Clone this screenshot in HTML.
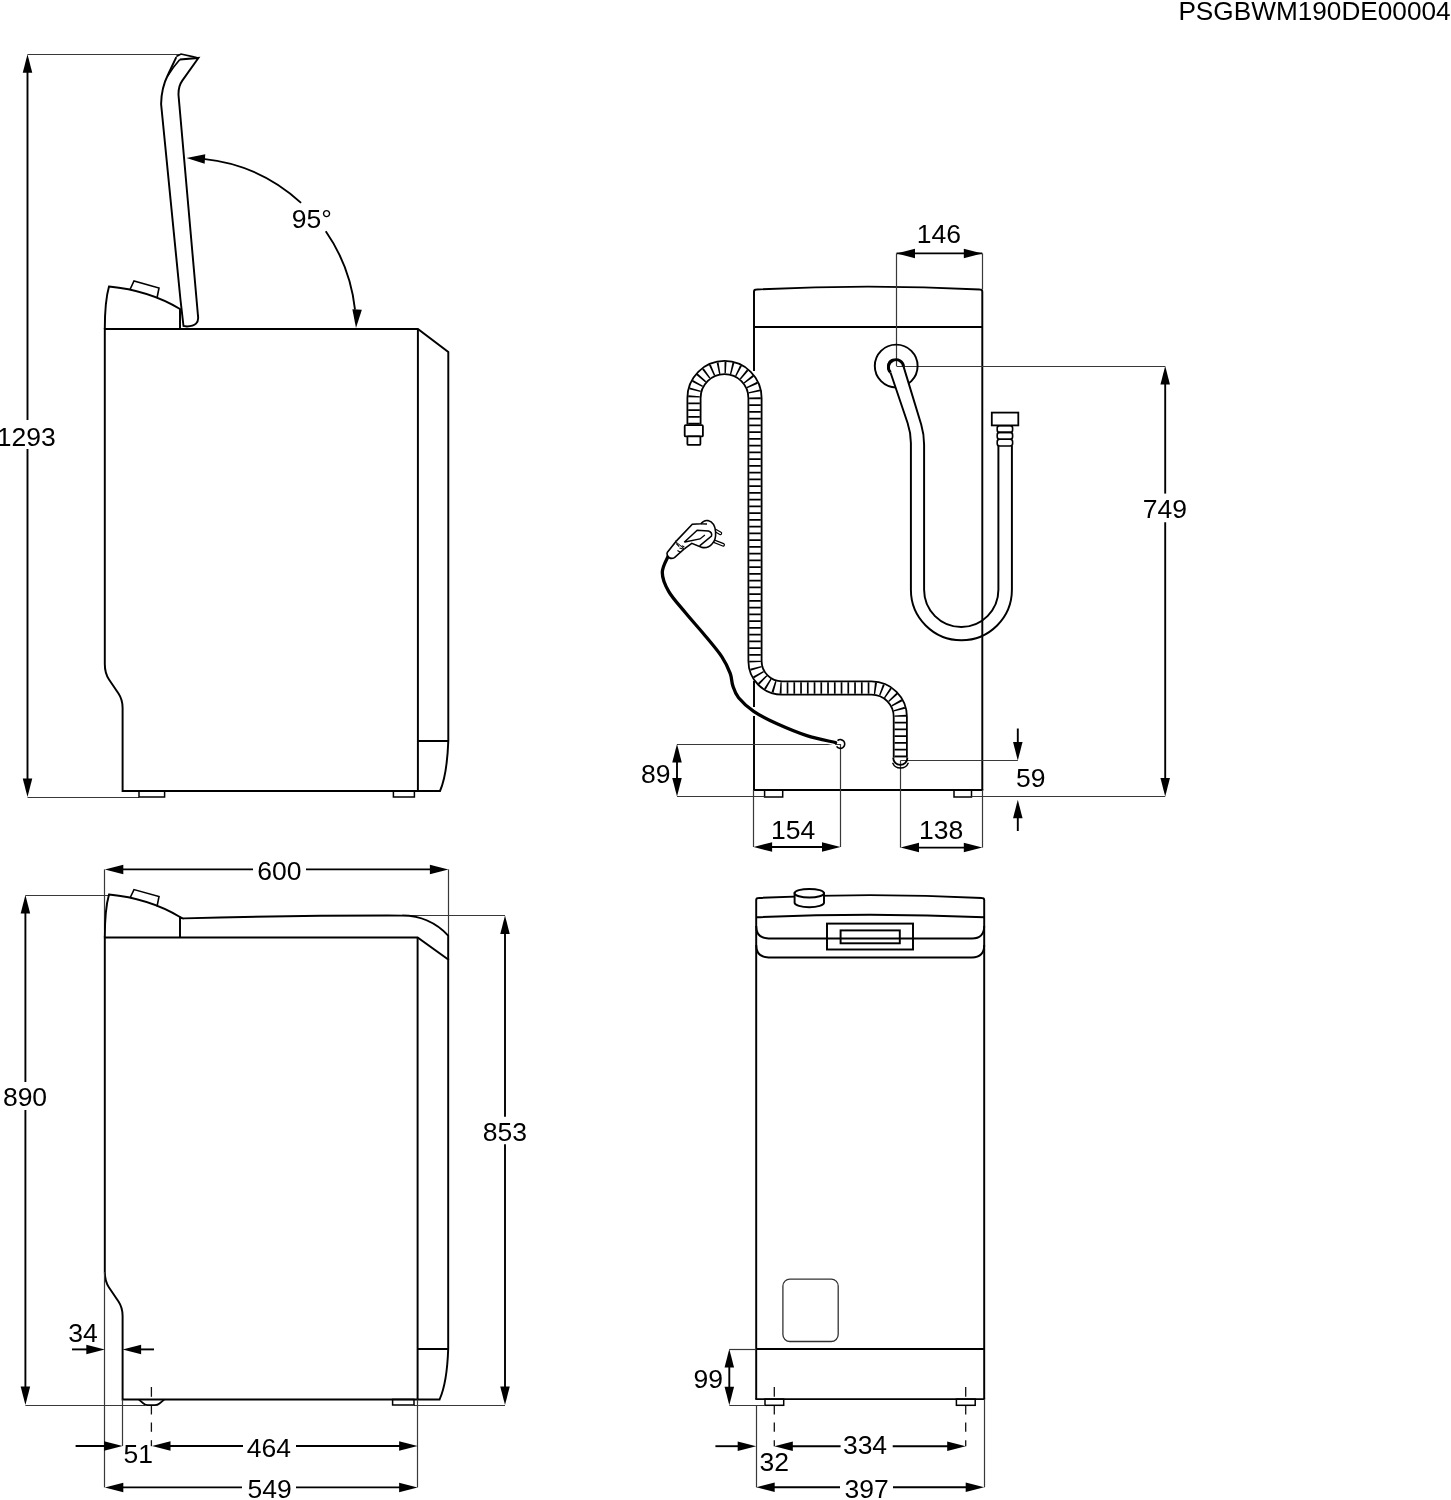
<!DOCTYPE html>
<html><head><meta charset="utf-8"><title>Dimensions</title>
<style>html,body{margin:0;padding:0;background:#fff;overflow:hidden}svg{display:block}</style></head>
<body><svg width="1451" height="1500" viewBox="0 0 1451 1500" font-family="Liberation Sans, sans-serif" font-size="26.5" fill="#000" style="will-change:transform">
<rect x="0" y="0" width="1451" height="1500" fill="#fff"/>
<text x="1178.4" y="19.7" font-size="26.2">PSGBWM190DE00004</text>
<line x1="27.5" y1="60" x2="27.5" y2="420" stroke="#000" stroke-width="1.9" />
<line x1="27.5" y1="449" x2="27.5" y2="790" stroke="#000" stroke-width="1.9" />
<polygon points="27.50,54.30 32.25,72.80 22.75,72.80" fill="#000"/>
<polygon points="27.50,797.00 22.75,778.50 32.25,778.50" fill="#000"/>
<line x1="27.5" y1="54.5" x2="181" y2="54.5" stroke="#383838" stroke-width="1.2" />
<line x1="27.5" y1="797.5" x2="139" y2="797.5" stroke="#383838" stroke-width="1.2" />
<text x="-3.25" y="445.6" text-anchor="start">1293</text>
<path d="M104.8,329 L417.9,329 L448.3,352 L448.3,741 Q447,775 440,791 L122.6,791 L122.6,708 C122.6,701 121.5,698 118.5,693.5 L109,679.5 C106,675 104.8,671 104.8,664 Z" stroke="#000" stroke-width="1.95" fill="none" />
<line x1="417.9" y1="329" x2="417.9" y2="791" stroke="#000" stroke-width="1.95" />
<line x1="417.9" y1="741" x2="448.3" y2="741" stroke="#000" stroke-width="1.95" />
<rect x="139" y="791" width="25.60" height="6.00" rx="0" stroke="#000" stroke-width="1.5" fill="none"/>
<rect x="393.4" y="791" width="21.00" height="6.00" rx="0" stroke="#000" stroke-width="1.5" fill="none"/>
<path d="M104.8,329 C104.8,312 106,297 109,286.5 C135,289 160,297 180,309 L180,329" stroke="#000" stroke-width="1.95" fill="none" />
<path d="M130,289.5 L134,281 L159,288 L157,298" stroke="#000" stroke-width="1.6" fill="none" />
<path d="M176.3,57.2 L168.2,74.2 C164,82.5 161.2,92 161.1,104 L180.5,300 L183.5,326 L187,326.5 Q199.5,326 198,316 L178.5,95 C178.3,88.5 179.5,84.5 182.3,80.6 L198.4,58 L179.8,59.5" stroke="#000" stroke-width="1.95" fill="none" />
<path d="M179.8,59.5 C175,65 171.5,69.5 167.6,76" stroke="#000" stroke-width="1.7" fill="none" />
<path d="M176.3,56.5 L181,54 L192.6,56.6 L198.4,58" stroke="#000" stroke-width="1.6" fill="none" />
<path d="M203.18,158.87 A170,170 0 0 1 301.07,202.86" stroke="#000" stroke-width="1.9" fill="none" />
<path d="M325.76,231.22 A170,170 0 0 1 355.01,309.64" stroke="#000" stroke-width="1.9" fill="none" />
<polygon points="186.50,158.00 205.25,154.37 204.68,163.85" fill="#000"/>
<polygon points="356.00,328.00 352.37,309.25 361.85,309.82" fill="#000"/>
<text x="291.7" y="227.7" text-anchor="start">95°</text>
<path d="M754,371 L754,291.5 Q754,289.5 756.5,289.5 Q868,283.8 979.8,289.5 Q982.3,289.5 982.3,291.5 L982.3,790" stroke="#000" stroke-width="1.95" fill="none" />
<line x1="754" y1="681" x2="754" y2="707" stroke="#000" stroke-width="1.95" />
<line x1="754" y1="716" x2="754" y2="790" stroke="#000" stroke-width="1.95" />
<line x1="753.1" y1="790" x2="983.2" y2="790" stroke="#000" stroke-width="1.95" />
<line x1="754" y1="327" x2="982.3" y2="327" stroke="#000" stroke-width="1.95" />
<rect x="764.6" y="790" width="18.10" height="7.00" rx="0" stroke="#000" stroke-width="1.5" fill="none"/>
<rect x="954" y="790" width="17.50" height="7.00" rx="0" stroke="#000" stroke-width="1.5" fill="none"/>
<line x1="896.5" y1="253.4" x2="982.3" y2="253.4" stroke="#000" stroke-width="1.9" />
<polygon points="896.50,253.40 915.00,248.65 915.00,258.15" fill="#000"/>
<polygon points="982.30,253.40 963.80,258.15 963.80,248.65" fill="#000"/>
<line x1="896.5" y1="253.4" x2="896.5" y2="366" stroke="#383838" stroke-width="1.2" />
<line x1="982.5" y1="253.4" x2="982.5" y2="289.5" stroke="#383838" stroke-width="1.2" />
<text x="916.8" y="243.4" text-anchor="start">146</text>
<line x1="896.5" y1="366.5" x2="1165.2" y2="366.5" stroke="#383838" stroke-width="1.2" />
<line x1="1165.2" y1="372" x2="1165.2" y2="493.6" stroke="#000" stroke-width="1.9" />
<line x1="1165.2" y1="522.3" x2="1165.2" y2="790" stroke="#000" stroke-width="1.9" />
<polygon points="1165.20,366.00 1169.95,384.50 1160.45,384.50" fill="#000"/>
<polygon points="1165.20,796.50 1160.45,778.00 1169.95,778.00" fill="#000"/>
<text x="1142.7" y="517.7" text-anchor="start">749</text>
<line x1="971.5" y1="796.5" x2="1165.2" y2="796.5" stroke="#383838" stroke-width="1.2" />
<line x1="677" y1="744.5" x2="840.5" y2="744.5" stroke="#383838" stroke-width="1.2" />
<line x1="677" y1="796.5" x2="764.6" y2="796.5" stroke="#383838" stroke-width="1.2" />
<line x1="677" y1="750" x2="677" y2="790" stroke="#000" stroke-width="1.9" />
<polygon points="677.00,744.00 681.75,762.50 672.25,762.50" fill="#000"/>
<polygon points="677.00,796.50 672.25,778.00 681.75,778.00" fill="#000"/>
<text x="641.1" y="783.3" text-anchor="start">89</text>
<line x1="753.5" y1="790" x2="753.5" y2="847" stroke="#383838" stroke-width="1.2" />
<line x1="840.5" y1="744" x2="840.5" y2="847" stroke="#383838" stroke-width="1.2" />
<line x1="760" y1="847" x2="834" y2="847" stroke="#000" stroke-width="1.9" />
<polygon points="753.60,847.00 772.10,842.25 772.10,851.75" fill="#000"/>
<polygon points="840.50,847.00 822.00,851.75 822.00,842.25" fill="#000"/>
<text x="771" y="838.9" text-anchor="start">154</text>
<line x1="900.5" y1="760.5" x2="900.5" y2="847.6" stroke="#383838" stroke-width="1.2" />
<line x1="982.5" y1="790" x2="982.5" y2="847.6" stroke="#383838" stroke-width="1.2" />
<line x1="906" y1="847.6" x2="976" y2="847.6" stroke="#000" stroke-width="1.9" />
<polygon points="900.50,847.60 919.00,842.85 919.00,852.35" fill="#000"/>
<polygon points="982.30,847.60 963.80,852.35 963.80,842.85" fill="#000"/>
<text x="919" y="838.9" text-anchor="start">138</text>
<line x1="900.5" y1="760.5" x2="1017.8" y2="760.5" stroke="#383838" stroke-width="1.2" />
<line x1="1017.8" y1="728.5" x2="1017.8" y2="748" stroke="#000" stroke-width="1.9" />
<polygon points="1017.80,760.50 1013.05,742.00 1022.55,742.00" fill="#000"/>
<line x1="1017.8" y1="812" x2="1017.8" y2="831" stroke="#000" stroke-width="1.9" />
<polygon points="1017.80,799.80 1022.55,818.30 1013.05,818.30" fill="#000"/>
<text x="1015.9" y="786.9" text-anchor="start">59</text>
<circle cx="896.2" cy="366" r="21.4" stroke="#000" stroke-width="1.95" fill="none"/>
<polygon points="890.5,372.5 903.6,366.6 913,398 899.5,398" fill="#fff"/>
<path d="M890.5,372.5 L907.6,423 Q910.9,433 910.9,443 L910.9,589.8 A50.5,50.5 0 0 0 1011.9,589.8 L1011.9,446" stroke="#000" stroke-width="1.95" fill="none" />
<path d="M903.6,366.6 L921.2,424.5 Q924.1,434.5 924.1,444.5 L924.1,589.8 A37.15,37.15 0 0 0 998.4,589.8 L998.4,446" stroke="#000" stroke-width="1.95" fill="none" />
<path d="M890.5,372.5 A7.6,7.6 0 1 1 903.6,366.6" stroke="#000" stroke-width="2.9" fill="none" />
<path d="M889.6,371 A7.2,7.2 0 0 1 893.5,359.2" stroke="#000" stroke-width="1.6" fill="none" />
<rect x="997.2" y="425.6" width="15.40" height="6.80" rx="2.5" stroke="#000" stroke-width="1.6" fill="none"/>
<rect x="997.2" y="432.4" width="15.40" height="6.80" rx="2.5" stroke="#000" stroke-width="1.6" fill="none"/>
<rect x="997.2" y="439.2" width="15.40" height="6.80" rx="2.5" stroke="#000" stroke-width="1.6" fill="none"/>
<rect x="991.8" y="412.6" width="26.50" height="12.80" rx="0" stroke="#000" stroke-width="1.8" fill="white"/>
<path d="M694,424.4 L694,398 A30.5,30.5 0 0 1 755,398 L755,661 A27,27 0 0 0 782,688 L871.5,688 A28.8,28.8 0 0 1 900.3,716.8 L900.3,757.8" stroke="#000" stroke-width="15.0" fill="none" />
<path d="M694,424.4 L694,398 A30.5,30.5 0 0 1 755,398 L755,661 A27,27 0 0 0 782,688 L871.5,688 A28.8,28.8 0 0 1 900.3,716.8 L900.3,757.8" stroke="#ffffff" stroke-width="11.4" fill="none" />
<path d="M694,424.4 L694,398 A30.5,30.5 0 0 1 755,398 L755,661 A27,27 0 0 0 782,688 L871.5,688 A28.8,28.8 0 0 1 900.3,716.8 L900.3,757.8" stroke="#000" stroke-width="11.6" fill="none" stroke-dasharray="1.7 5.05"/>
<path d="M893.2,757.8 A7.1,7.1 0 0 0 907.4,757.8" stroke="#000" stroke-width="1.9" fill="none" />
<path d="M892.6,762.7 A8.5,8.5 0 0 0 908.4,762.7" stroke="#000" stroke-width="1.4" fill="none" />
<rect x="684.7" y="425.2" width="18.20" height="11.20" rx="1" stroke="#000" stroke-width="1.8" fill="white"/>
<rect x="687.4" y="436.4" width="13.00" height="8.50" rx="1" stroke="#000" stroke-width="1.8" fill="white"/>
<path d="M668.5,555.5 C667.5,558.3 662.2,566.5 662.3,572.5 C662.3,578.5 664.9,584.9 668.8,591.6 C672.7,598.3 679.7,605.7 685.5,612.8 C691.3,619.9 697.6,626.7 703.7,634 C709.8,641.3 717.5,650.2 721.9,656.8 C726.3,663.4 728.4,668.6 730.2,673.4 C732.0,678.2 731.4,681.5 732.8,685.6 C734.2,689.7 735.1,693.4 738.6,697.7 C742.1,702.0 747.4,707.0 753.7,711.3 C760.0,715.6 767.6,719.5 776.5,723.5 C785.4,727.5 796.9,732.4 806.8,735.6 C816.6,738.8 830.8,741.4 835.6,742.6" stroke="#ffffff" stroke-width="6" fill="none" />
<path d="M668.5,555.5 C667.5,558.3 662.2,566.5 662.3,572.5 C662.3,578.5 664.9,584.9 668.8,591.6 C672.7,598.3 679.7,605.7 685.5,612.8 C691.3,619.9 697.6,626.7 703.7,634 C709.8,641.3 717.5,650.2 721.9,656.8 C726.3,663.4 728.4,668.6 730.2,673.4 C732.0,678.2 731.4,681.5 732.8,685.6 C734.2,689.7 735.1,693.4 738.6,697.7 C742.1,702.0 747.4,707.0 753.7,711.3 C760.0,715.6 767.6,719.5 776.5,723.5 C785.4,727.5 796.9,732.4 806.8,735.6 C816.6,738.8 830.8,741.4 835.6,742.6" stroke="#000" stroke-width="3.3" fill="none" stroke-linecap="round"/>
<path d="M837.5,740.6 A4.4,4.4 0 1 1 836.6,746.3" stroke="#000" stroke-width="1.6" fill="none" />
<path d="M715,530.2 L720.4,533.4" stroke="#000" stroke-width="3.6" fill="none" stroke-linecap="round"/>
<path d="M715,530.2 L720.4,533.4" stroke="#fff" stroke-width="1.3" fill="none" stroke-linecap="round"/>
<path d="M713.5,541 L723.2,544.8" stroke="#000" stroke-width="3.6" fill="none" stroke-linecap="round"/>
<path d="M713.5,541 L723.2,544.8" stroke="#fff" stroke-width="1.3" fill="none" stroke-linecap="round"/>
<path d="M667.4,552.2 L676,541.4 L684.6,548.6 L674.5,557.6 Q670,560 667.4,555.5 Q666.6,553.5 667.4,552.2 Z" stroke="#000" stroke-width="1.6" fill="white" />
<path d="M676,541.4 L692.3,524.2 L701,523.8 Q704,519.8 708,520.6 Q715,522.5 715.6,532 Q716.2,540 712,544 Q708,548.6 702,547.4 L691.8,543.3 L684.6,548.6" stroke="#000" stroke-width="1.6" fill="white" />
<path d="M701,523.8 L707,524" stroke="#000" stroke-width="1.3" fill="none" />
<path d="M684.2,542.3 L697.2,530.3 L708.5,531 Q712.5,532.5 711.5,536 L699.6,545.8" stroke="#000" stroke-width="1.5" fill="none" />
<path d="M684.8,542 L700,538.9 L704.9,535.1" stroke="#000" stroke-width="1.3" fill="none" />
<path d="M676.3,543.5 L679.2,546.6 M677.4,550.6 L681,552.6 M679.5,548 L683.8,549.2 M681.8,545.8 L684.3,546.8" stroke="#000" stroke-width="1.1" fill="none" />
<line x1="111" y1="869.4" x2="253" y2="869.4" stroke="#000" stroke-width="1.9" />
<line x1="306" y1="869.4" x2="442" y2="869.4" stroke="#000" stroke-width="1.9" />
<polygon points="104.80,869.40 123.30,864.65 123.30,874.15" fill="#000"/>
<polygon points="448.40,869.40 429.90,874.15 429.90,864.65" fill="#000"/>
<line x1="104.5" y1="869.4" x2="104.5" y2="930" stroke="#383838" stroke-width="1.2" />
<line x1="448.5" y1="869.4" x2="448.5" y2="935" stroke="#383838" stroke-width="1.2" />
<text x="257.2" y="879.8" text-anchor="start">600</text>
<line x1="25.4" y1="901" x2="25.4" y2="1082" stroke="#000" stroke-width="1.9" />
<line x1="25.4" y1="1110" x2="25.4" y2="1399" stroke="#000" stroke-width="1.9" />
<polygon points="25.40,895.00 30.15,913.50 20.65,913.50" fill="#000"/>
<polygon points="25.40,1405.00 20.65,1386.50 30.15,1386.50" fill="#000"/>
<line x1="25.4" y1="895.5" x2="109" y2="895.5" stroke="#383838" stroke-width="1.2" />
<line x1="25.4" y1="1405.5" x2="145" y2="1405.5" stroke="#383838" stroke-width="1.2" />
<text x="2.9" y="1106.1" text-anchor="start">890</text>
<line x1="505" y1="922" x2="505" y2="1116.7" stroke="#000" stroke-width="1.9" />
<line x1="505" y1="1144.2" x2="505" y2="1399" stroke="#000" stroke-width="1.9" />
<polygon points="505.00,915.60 509.75,934.10 500.25,934.10" fill="#000"/>
<polygon points="505.00,1405.00 500.25,1386.50 509.75,1386.50" fill="#000"/>
<line x1="400" y1="915.5" x2="505" y2="915.5" stroke="#383838" stroke-width="1.2" />
<line x1="414" y1="1405.5" x2="505" y2="1405.5" stroke="#383838" stroke-width="1.2" />
<text x="482.7" y="1141.2" text-anchor="start">853</text>
<path d="M104.8,937.4 L417.6,937.4 L448.2,959.4 L448.2,1349 Q447,1383 439.6,1399.4 L122.6,1399.4 L122.6,1316 C122.6,1309 121.5,1306 118.5,1301.5 L109,1287.5 C106,1283 104.8,1279 104.8,1272 Z" stroke="#000" stroke-width="1.95" fill="none" />
<line x1="417.6" y1="937.4" x2="417.6" y2="1399.4" stroke="#000" stroke-width="1.95" />
<line x1="417.6" y1="1349" x2="448.2" y2="1349" stroke="#000" stroke-width="1.95" />
<path d="M138.6,1399.4 L143.5,1403.5 Q145.5,1405.2 148,1405.2 L155,1405.2 Q157.5,1405.2 159.5,1403.5 L164.5,1399.4" stroke="#000" stroke-width="1.7" fill="none" />
<rect x="392.6" y="1399.4" width="21.40" height="5.60" rx="0" stroke="#000" stroke-width="1.5" fill="none"/>
<path d="M104.8,937.4 C104.8,920 106,905 109,894.5 C135,897 160,905 180,917 L180,937.4" stroke="#000" stroke-width="1.95" fill="none" />
<path d="M130,898 L134,889.6 L159,896.6 L157,906.5" stroke="#000" stroke-width="1.6" fill="none" />
<path d="M180,917 Q181.5,918.6 184,918.4 Q290,915.4 402,915.6 A62,62 0 0 1 448.2,935.7 L448.2,960" stroke="#000" stroke-width="1.95" fill="none" />
<line x1="151.4" y1="1387" x2="151.4" y2="1396.8" stroke="#111" stroke-width="1.3" />
<line x1="151.4" y1="1406" x2="151.4" y2="1414.5" stroke="#111" stroke-width="1.3" />
<line x1="151.4" y1="1422.5" x2="151.4" y2="1431.8" stroke="#111" stroke-width="1.3" />
<line x1="151.4" y1="1440.2" x2="151.4" y2="1446.2" stroke="#111" stroke-width="1.3" />
<line x1="104.5" y1="1272" x2="104.5" y2="1487.4" stroke="#383838" stroke-width="1.2" />
<line x1="122.5" y1="1399.4" x2="122.5" y2="1446" stroke="#383838" stroke-width="1.2" />
<line x1="417.5" y1="1399.4" x2="417.5" y2="1487.4" stroke="#383838" stroke-width="1.2" />
<line x1="72" y1="1349.4" x2="90" y2="1349.4" stroke="#000" stroke-width="1.9" />
<polygon points="104.80,1349.40 86.30,1354.15 86.30,1344.65" fill="#000"/>
<line x1="138" y1="1349.4" x2="154" y2="1349.4" stroke="#000" stroke-width="1.9" />
<polygon points="122.60,1349.40 141.10,1344.65 141.10,1354.15" fill="#000"/>
<text x="68.2" y="1341.7" text-anchor="start">34</text>
<line x1="75.6" y1="1446" x2="110" y2="1446" stroke="#000" stroke-width="1.9" />
<polygon points="122.60,1446.00 104.10,1450.75 104.10,1441.25" fill="#000"/>
<text x="123.5" y="1462.7" text-anchor="start">51</text>
<line x1="165" y1="1446" x2="243" y2="1446" stroke="#000" stroke-width="1.9" />
<polygon points="152.00,1446.00 170.50,1441.25 170.50,1450.75" fill="#000"/>
<line x1="296" y1="1446" x2="405" y2="1446" stroke="#000" stroke-width="1.9" />
<polygon points="417.60,1446.00 399.10,1450.75 399.10,1441.25" fill="#000"/>
<text x="246.7" y="1456.5" text-anchor="start">464</text>
<line x1="118" y1="1487.4" x2="242" y2="1487.4" stroke="#000" stroke-width="1.9" />
<polygon points="104.80,1487.40 123.30,1482.65 123.30,1492.15" fill="#000"/>
<line x1="296" y1="1487.4" x2="405" y2="1487.4" stroke="#000" stroke-width="1.9" />
<polygon points="417.60,1487.40 399.10,1492.15 399.10,1482.65" fill="#000"/>
<text x="247.5" y="1497.7" text-anchor="start">549</text>
<path d="M756.2,1399 L756.2,900 Q756.2,898 758.5,898 Q870,892.2 981.8,898 Q984.2,898 984.2,900 L984.2,1399.1" stroke="#000" stroke-width="1.95" fill="none" />
<line x1="755.3" y1="1399.1" x2="985.1" y2="1399.1" stroke="#000" stroke-width="1.95" />
<path d="M756.2,917.3 Q870,912.3 984.2,917.3" stroke="#000" stroke-width="1.95" fill="none" />
<path d="M756.2,926 Q756.2,938.5 768.6,938.5 L972,938.5 Q984.2,938.5 984.2,926" stroke="#000" stroke-width="1.95" fill="none" />
<path d="M756.2,945 Q756.2,957.4 768.6,957.4 L972,957.4 Q984.2,957.4 984.2,945" stroke="#000" stroke-width="1.95" fill="none" />
<rect x="827" y="923.6" width="86.00" height="25.90" rx="0" stroke="#000" stroke-width="1.95" fill="none"/>
<rect x="840.6" y="930.4" width="59.20" height="12.90" rx="0" stroke="#000" stroke-width="1.95" fill="none"/>
<path d="M794.6,893.2 L794.6,902.8 A14.7,4.4 0 0 0 824,902.8 L824,893.2 Z" stroke="#000" stroke-width="1.95" fill="white" />
<ellipse cx="809.3" cy="893.2" rx="14.7" ry="4.3" stroke="#000" stroke-width="1.95" fill="white"/>
<rect x="782.9" y="1279.1" width="55.30" height="62.40" rx="7" stroke="#333" stroke-width="1.3" fill="none"/>
<line x1="756.2" y1="1349" x2="984.2" y2="1349" stroke="#000" stroke-width="1.95" />
<rect x="765" y="1399.1" width="18.70" height="6.20" rx="0" stroke="#000" stroke-width="1.5" fill="none"/>
<rect x="956.4" y="1399.1" width="18.80" height="6.20" rx="0" stroke="#000" stroke-width="1.5" fill="none"/>
<line x1="774.3" y1="1387" x2="774.3" y2="1396.8" stroke="#111" stroke-width="1.3" />
<line x1="774.3" y1="1406" x2="774.3" y2="1414.5" stroke="#111" stroke-width="1.3" />
<line x1="774.3" y1="1422.5" x2="774.3" y2="1431.8" stroke="#111" stroke-width="1.3" />
<line x1="774.3" y1="1440.2" x2="774.3" y2="1446.2" stroke="#111" stroke-width="1.3" />
<line x1="965.7" y1="1387" x2="965.7" y2="1396.8" stroke="#111" stroke-width="1.3" />
<line x1="965.7" y1="1406" x2="965.7" y2="1414.5" stroke="#111" stroke-width="1.3" />
<line x1="965.7" y1="1422.5" x2="965.7" y2="1431.8" stroke="#111" stroke-width="1.3" />
<line x1="965.7" y1="1440.2" x2="965.7" y2="1446.2" stroke="#111" stroke-width="1.3" />
<line x1="729.3" y1="1349.5" x2="756.2" y2="1349.5" stroke="#383838" stroke-width="1.2" />
<line x1="729.3" y1="1405.5" x2="765" y2="1405.5" stroke="#383838" stroke-width="1.2" />
<line x1="729.3" y1="1355" x2="729.3" y2="1399" stroke="#000" stroke-width="1.9" />
<polygon points="729.30,1349.00 734.05,1367.50 724.55,1367.50" fill="#000"/>
<polygon points="729.30,1405.30 724.55,1386.80 734.05,1386.80" fill="#000"/>
<text x="693.4" y="1387.5" text-anchor="start">99</text>
<line x1="715.4" y1="1446.2" x2="740" y2="1446.2" stroke="#000" stroke-width="1.9" />
<polygon points="756.20,1446.20 737.70,1450.95 737.70,1441.45" fill="#000"/>
<text x="759.4" y="1471.2" text-anchor="start">32</text>
<line x1="756.5" y1="1405" x2="756.5" y2="1487.3" stroke="#383838" stroke-width="1.2" />
<line x1="984.5" y1="1399" x2="984.5" y2="1487.3" stroke="#383838" stroke-width="1.2" />
<line x1="785" y1="1446.2" x2="840.6" y2="1446.2" stroke="#000" stroke-width="1.9" />
<polygon points="774.30,1446.20 792.80,1441.45 792.80,1450.95" fill="#000"/>
<line x1="892.7" y1="1446.2" x2="955" y2="1446.2" stroke="#000" stroke-width="1.9" />
<polygon points="965.70,1446.20 947.20,1450.95 947.20,1441.45" fill="#000"/>
<text x="842.9" y="1454" text-anchor="start">334</text>
<line x1="768" y1="1487.3" x2="840" y2="1487.3" stroke="#000" stroke-width="1.9" />
<polygon points="756.20,1487.30 774.70,1482.55 774.70,1492.05" fill="#000"/>
<line x1="893" y1="1487.3" x2="972" y2="1487.3" stroke="#000" stroke-width="1.9" />
<polygon points="984.20,1487.30 965.70,1492.05 965.70,1482.55" fill="#000"/>
<text x="844.5" y="1497.7" text-anchor="start">397</text>
</svg></body></html>
